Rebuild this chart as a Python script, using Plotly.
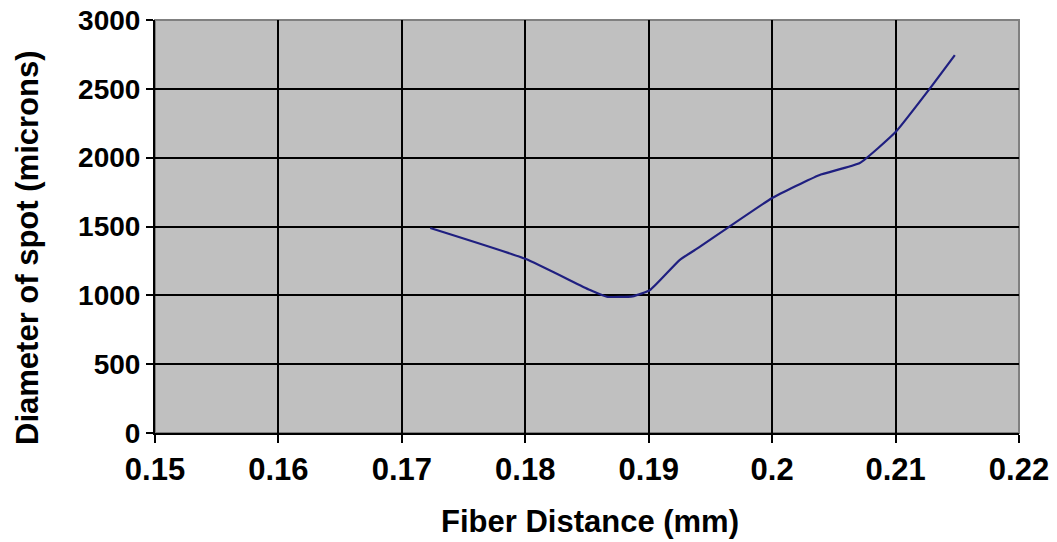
import plotly.graph_objects as go

# Spot diameter measured against fiber distance
fiber_distance_mm = [0.1723, 0.1800, 0.1852, 0.1866, 0.1887, 0.1901, 0.1925, 0.1941,
                     0.2000, 0.2038, 0.2071, 0.2100, 0.2128, 0.2148]
spot_diameter_um = [1489, 1265, 1040, 990, 993, 1038, 1256, 1350,
                    1707, 1873, 1961, 2186, 2505, 2745]

x_ticks = [0.15, 0.16, 0.17, 0.18, 0.19, 0.20, 0.21, 0.22]
x_tick_text = ["0.15", "0.16", "0.17", "0.18", "0.19", "0.2", "0.21", "0.22"]
y_ticks = [0, 500, 1000, 1500, 2000, 2500, 3000]

font_family = "Liberation Sans, Arial, sans-serif"

fig = go.Figure()
fig.add_trace(go.Scatter(
    x=fiber_distance_mm,
    y=spot_diameter_um,
    mode="lines",
    line=dict(color="#1f1f80", width=2.2, shape="spline", smoothing=0.4),
    showlegend=False,
))

fig.update_layout(
    width=1057,
    height=542,
    paper_bgcolor="white",
    plot_bgcolor="#c0c0c0",
    margin=dict(l=155, r=38, t=20, b=109),
    font=dict(family=font_family, color="black"),
    shapes=[dict(type="rect", xref="paper", yref="paper", x0=0, y0=0, x1=1, y1=1,
                 line=dict(color="#808080", width=2), layer="below")],
    annotations=[
        dict(text="<b>Fiber Distance (mm)</b>", xref="paper", yref="paper",
             x=0.504, y=-0.168, xanchor="center", yanchor="top", showarrow=False,
             font=dict(size=31, family=font_family, color="black")),
        dict(text="<b>Diameter of spot (microns)</b>", xref="paper", yref="paper",
             x=-0.147, y=0.448, xanchor="center", yanchor="middle", textangle=-90,
             showarrow=False,
             font=dict(size=31, family=font_family, color="black")),
    ],
)

fig.update_xaxes(
    range=[0.15, 0.22],
    tickvals=x_ticks,
    ticktext=x_tick_text,
    automargin=False,
    showgrid=True, gridcolor="black", gridwidth=2,
    zeroline=False,
    showline=True, linecolor="black", linewidth=2,
    ticks="outside", ticklen=8, tickwidth=2, tickcolor="black",
    tickfont=dict(size=31, family=font_family, weight="bold"),
)
fig.update_yaxes(
    range=[0, 3000],
    tickvals=y_ticks,
    automargin=False,
    showgrid=True, gridcolor="black", gridwidth=2,
    zeroline=False,
    showline=True, linecolor="black", linewidth=2,
    ticks="outside", ticklen=7, tickwidth=2, tickcolor="black",
    tickfont=dict(size=28, family=font_family, weight="bold"),
)

fig.write_html("out.html")
